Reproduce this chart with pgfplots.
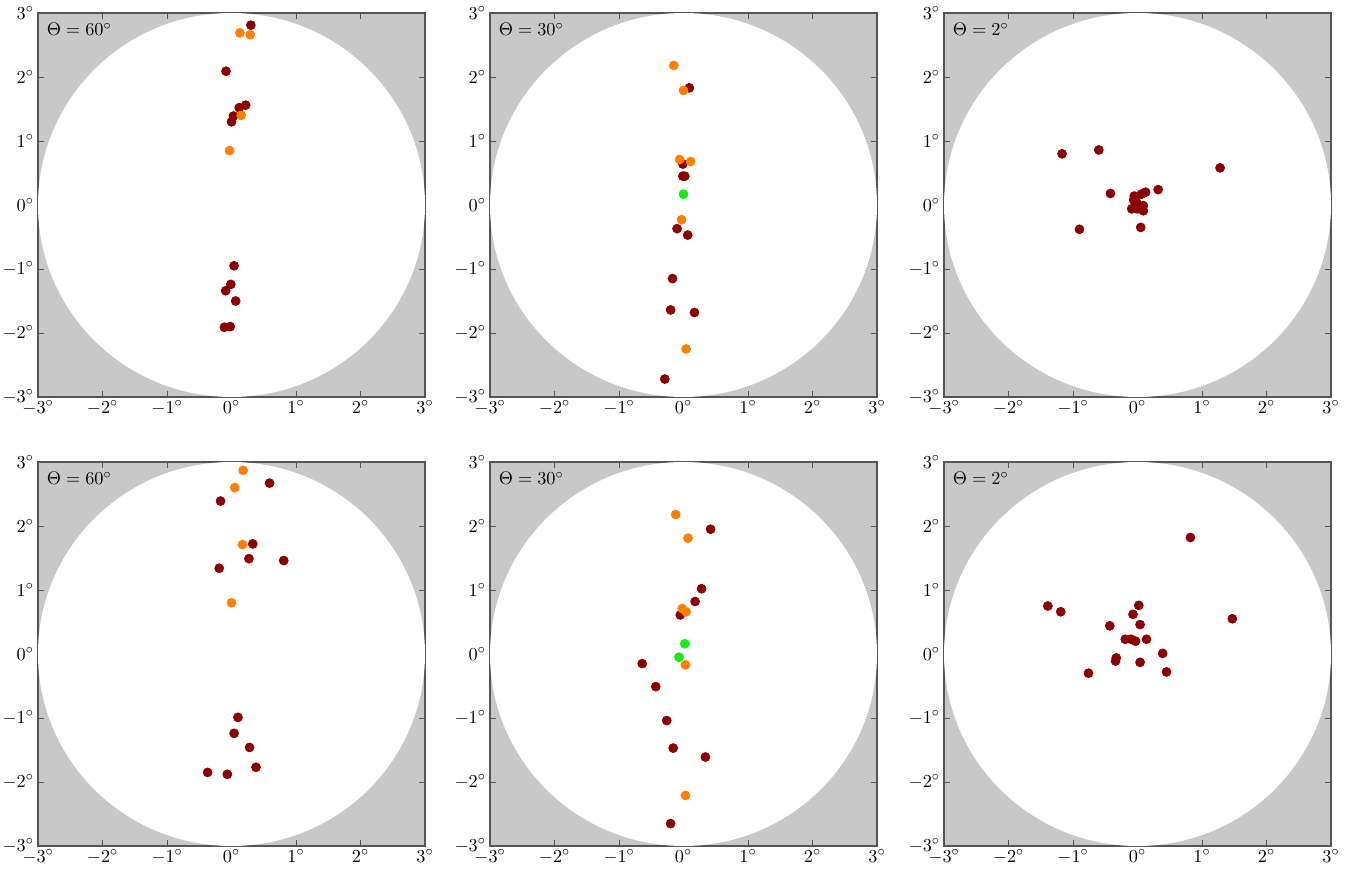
\documentclass[border=0pt]{standalone}
\usepackage{pgfplots}
\pgfplotsset{compat=1.18}
\definecolor{bgray}{RGB}{200,200,200}
\definecolor{axgray}{RGB}{85,85,85}
\definecolor{dred}{RGB}{139,0,0}
\definecolor{dorange}{RGB}{255,128,0}
\definecolor{lgreen}{RGB}{20,235,20}
\pgfplotsset{
  panel/.style={
    scale only axis, width=232.2pt, height=230.4pt,
    xmin=-3, xmax=3, ymin=-3, ymax=3,
    xtick={-3,...,3}, ytick={-3,...,3},
    xticklabels={$-3^\circ$,$-2^\circ$,$-1^\circ$,$0^\circ$,$1^\circ$,$2^\circ$,$3^\circ$},
    yticklabels={$-3^\circ$,$-2^\circ$,$-1^\circ$,$0^\circ$,$1^\circ$,$2^\circ$,$3^\circ$},
    axis background/.style={fill=bgray},
    axis line style={draw=axgray, line width=0.8pt},
    tick style={draw=axgray},
    major tick length=3.5pt,
    tick label style={font=\fontsize{10.9}{13}\selectfont},
    xticklabel style={yshift=1.5pt},
    yticklabel style={xshift=1pt},
    anchor=north west,
  },
  dk/.style={only marks, mark=*, mark size=2.7pt, color=dred, mark options={draw=dred, fill=dred}},
  og/.style={only marks, mark=*, mark size=2.7pt, color=dorange, mark options={draw=dorange, fill=dorange}},
  gr/.style={only marks, mark=*, mark size=2.7pt, color=lgreen, mark options={draw=lgreen, fill=lgreen}},
}
\newcommand{\disk}{\fill[white] (axis cs:0,0) ellipse [x radius=3, y radius=3];}
\newcommand{\ttl}[1]{\node[anchor=north west, inner sep=0pt, font=\fontsize{10.9}{13}\selectfont] at (rel axis cs:0.022,0.975) {$\Theta = #1^\circ$};}
\begin{document}
\begin{tikzpicture}
% ---------- Row 1, col 1 ----------
\begin{axis}[panel, at={(22.8pt,-7.8pt)}]
\disk
\addplot[dk] coordinates {(0.30,2.81) (-0.085,2.09) (0.22,1.56) (0.12,1.52) (0.03,1.39) (0.0,1.30)
 (0.04,-0.95) (-0.01,-1.24) (-0.09,-1.34) (0.065,-1.50) (-0.11,-1.91) (-0.02,-1.90)};
\addplot[og] coordinates {(0.13,2.69) (0.29,2.66) (0.15,1.40) (-0.03,0.85)};
\ttl{60}
\end{axis}
% ---------- Row 1, col 2 ----------
\begin{axis}[panel, at={(294pt,-7.8pt)}]
\disk
\addplot[dk] coordinates {(0.09,1.83) (-0.01,0.64) (-0.01,0.45) (0.02,0.45) (-0.10,-0.37) (0.065,-0.47)
 (-0.17,-1.15) (-0.20,-1.64) (0.17,-1.68) (-0.29,-2.72)};
\addplot[og] coordinates {(-0.15,2.18) (0.0,1.79) (-0.06,0.71) (0.11,0.68) (-0.03,-0.23) (0.04,-2.25)};
\addplot[gr] coordinates {(0.0,0.17)};
\ttl{30}
\end{axis}
% ---------- Row 1, col 3 ----------
\begin{axis}[panel, at={(566.4pt,-7.8pt)}]
\disk
\addplot[dk] coordinates {(-1.17,0.80) (-0.60,0.86) (1.28,0.58) (-0.42,0.18) (0.32,0.24) (-0.90,-0.38) (0.05,-0.35)
 (-0.05,0.14) (-0.06,0.08) (0.06,0.17) (0.125,0.20) (-0.09,-0.06) (0.0,-0.06) (0.09,-0.09) (0.09,-0.01) (-0.02,0.05)};
\ttl{2}
\end{axis}
% ---------- Row 2, col 1 ----------
\begin{axis}[panel, at={(22.8pt,-277.2pt)}]
\disk
\addplot[dk] coordinates {(0.59,2.67) (-0.17,2.39) (0.33,1.72) (0.27,1.49) (0.81,1.46) (-0.19,1.34)
 (0.10,-0.99) (0.04,-1.24) (0.28,-1.46) (0.38,-1.77) (-0.37,-1.85) (-0.065,-1.88)};
\addplot[og] coordinates {(0.18,2.87) (0.05,2.60) (0.17,1.71) (0.0,0.80)};
\ttl{60}
\end{axis}
% ---------- Row 2, col 2 ----------
\begin{axis}[panel, at={(294pt,-277.2pt)}]
\disk
\addplot[dk] coordinates {(0.42,1.95) (0.28,1.02) (0.18,0.82) (-0.05,0.61) (-0.64,-0.15) (-0.43,-0.51)
 (-0.26,-1.04) (-0.16,-1.47) (0.34,-1.61) (-0.20,-2.65)};
\addplot[og] coordinates {(-0.12,2.18) (0.07,1.81) (-0.02,0.71) (0.04,0.66) (0.03,-0.17) (0.03,-2.21)};
\addplot[gr] coordinates {(0.02,0.16) (-0.07,-0.05)};
\ttl{30}
\end{axis}
% ---------- Row 2, col 3 ----------
\begin{axis}[panel, at={(566.4pt,-277.2pt)}]
\disk
\addplot[dk] coordinates {(0.82,1.82) (-1.39,0.75) (-1.19,0.66) (0.02,0.76) (-0.07,0.62) (0.04,0.46) (-0.43,0.44)
 (1.47,0.55) (-0.19,0.23) (-0.10,0.23) (-0.03,0.20) (0.14,0.23) (0.39,0.01) (-0.33,-0.06) (-0.34,-0.11)
 (0.04,-0.13) (0.45,-0.28) (-0.76,-0.30)};
\ttl{2}
\end{axis}
\pgfresetboundingbox
\path (0,0) rectangle (818.4pt,-521.4pt);
\end{tikzpicture}
\end{document}
